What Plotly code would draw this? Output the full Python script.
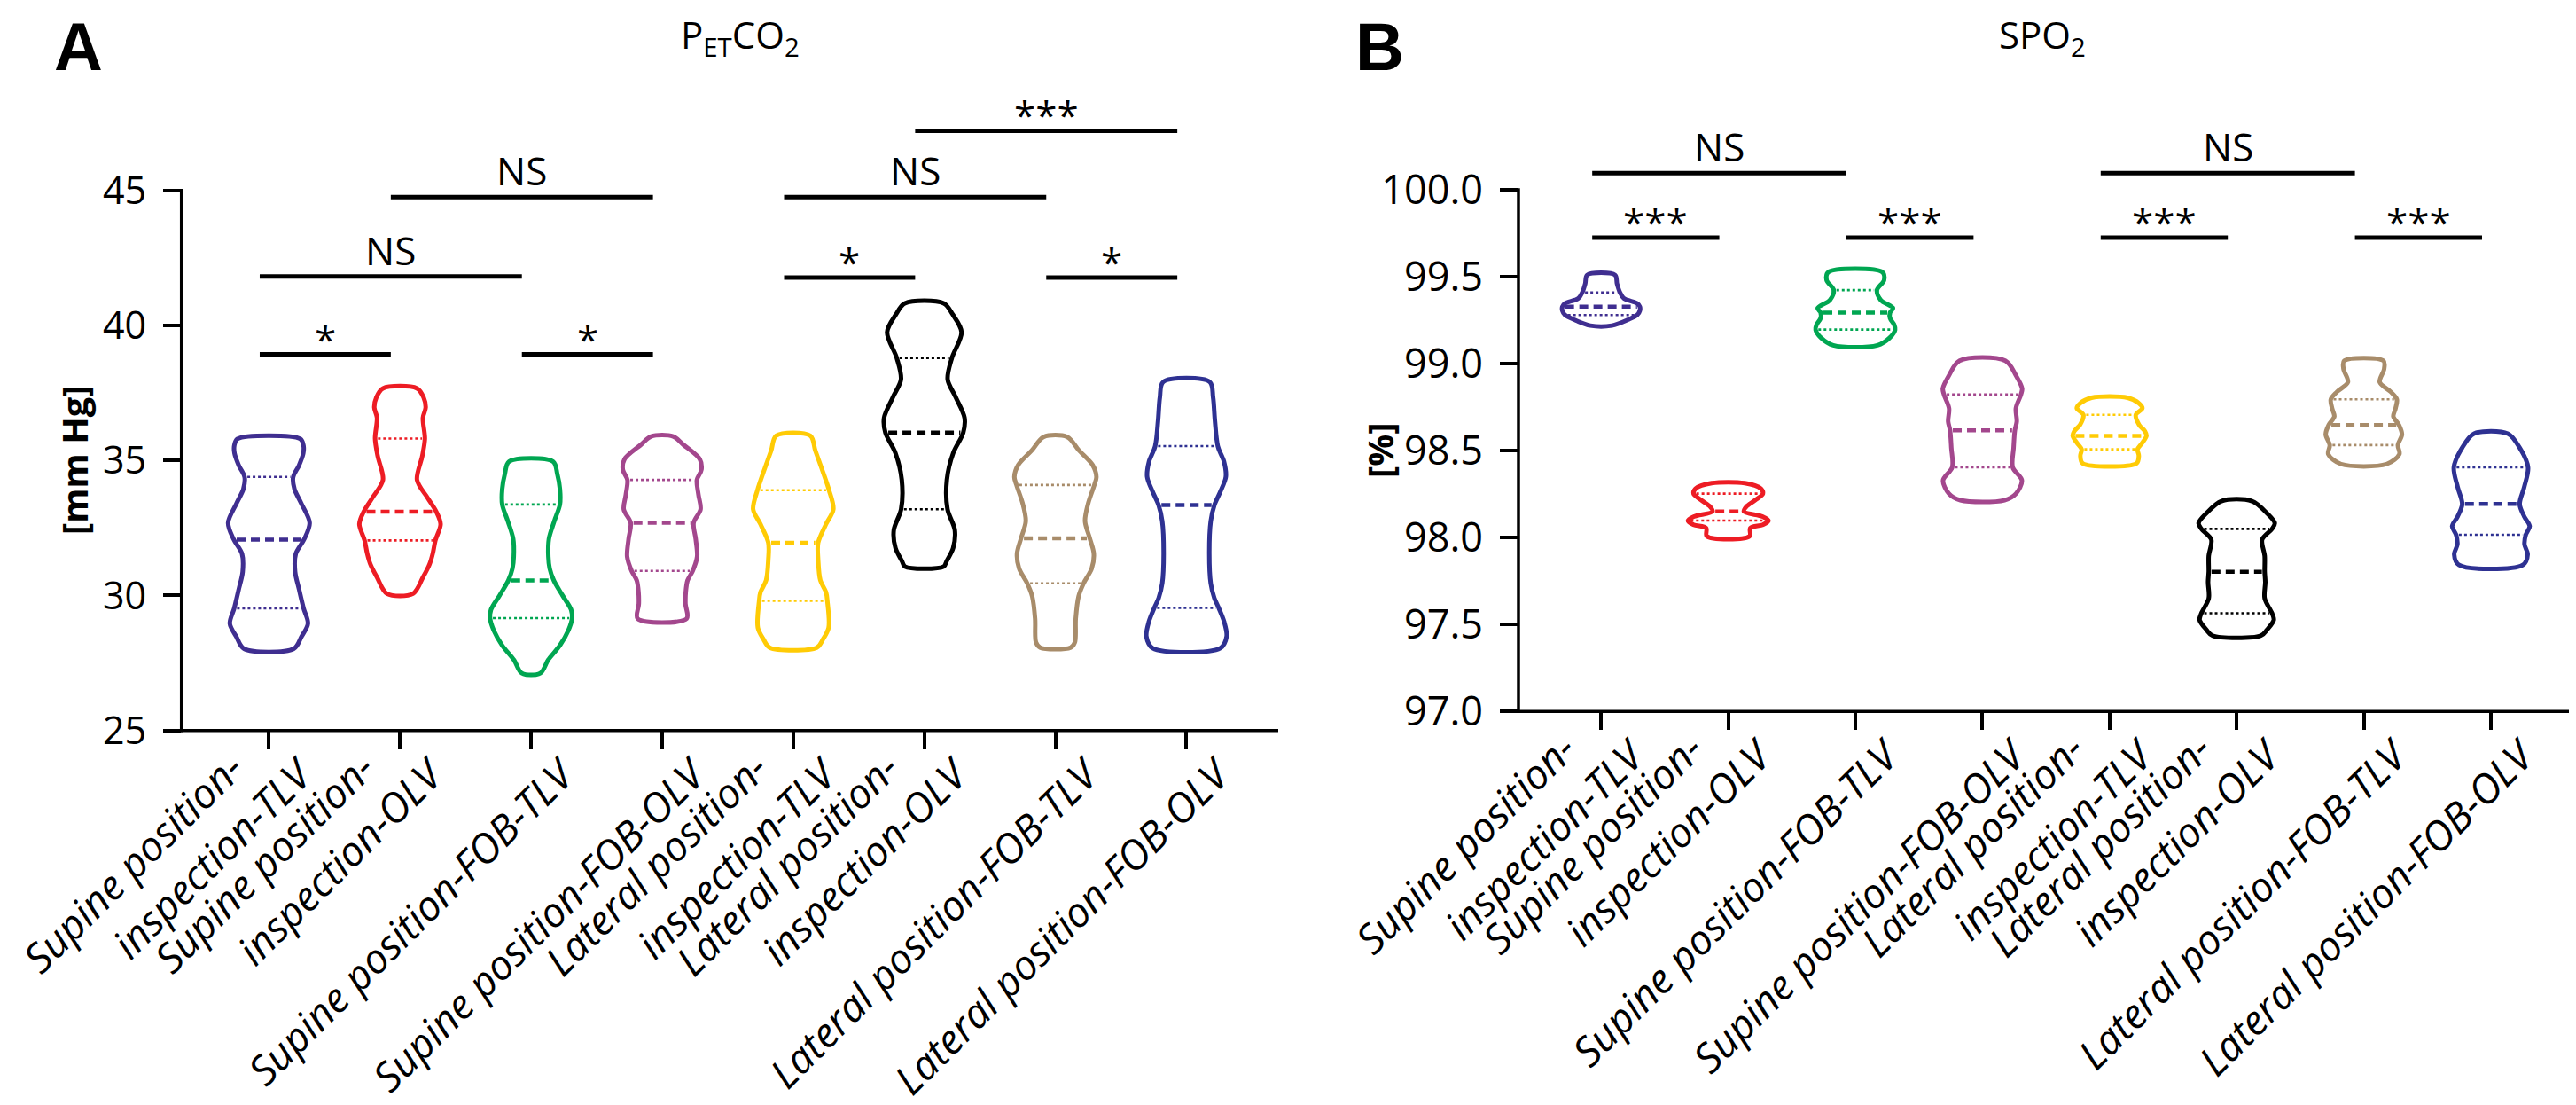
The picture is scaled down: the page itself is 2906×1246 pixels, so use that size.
import numpy as np
import plotly.graph_objects as go

W, H = 2906, 1246

# ---------------- data ----------------
NB = "\u00a0"
CATEGORIES = [
    "Supine position-" + NB * 4 + "<br>inspection-TLV",
    "Supine position-" + NB * 4 + "<br>inspection-OLV",
    NB + "<br>Supine position-FOB-TLV",
    NB + "<br>Supine position-FOB-OLV",
    "Lateral position-" + NB * 4 + "<br>inspection-TLV",
    "Lateral position-" + NB * 4 + "<br>inspection-OLV",
    NB + "<br>Lateral position-FOB-TLV",
    NB + "<br>Lateral position-FOB-OLV",
]

# Panel A (PETCO2) violin outlines: value levels (top->bottom) and density half-width
A1_Y = [35.80, 35.55, 35.26, 34.82, 34.38, 33.94, 33.40, 32.69, 32.09, 31.54, 30.88, 30.23, 29.52, 28.96, 28.47, 28.03]
A1_W = [0.24, 0.264, 0.262, 0.23, 0.185, 0.195, 0.248, 0.311, 0.27, 0.205, 0.20, 0.23, 0.265, 0.298, 0.248, 0.19]
A2_Y = [37.67, 37.34, 36.96, 36.58, 35.81, 35.16, 34.28, 33.62, 33.10, 32.64, 32.04, 31.55, 31.16, 30.67, 30.07]
A2_W = [0.13, 0.18, 0.196, 0.175, 0.19, 0.17, 0.13, 0.21, 0.277, 0.31, 0.27, 0.25, 0.226, 0.175, 0.10]
A3_Y = [34.96, 34.50, 33.95, 33.37, 32.75, 32.09, 31.44, 31.00, 30.56, 30.01, 29.47, 29.16, 28.70, 28.15, 27.61, 27.12]
A3_W = [0.168, 0.20, 0.22, 0.22, 0.177, 0.136, 0.132, 0.142, 0.173, 0.239, 0.306, 0.313, 0.284, 0.22, 0.13, 0.07]
A4_Y = [35.89, 35.59, 35.05, 34.66, 34.28, 33.73, 33.19, 32.69, 32.09, 31.44, 30.91, 30.56, 30.12, 29.69, 29.14]
A4_W = [0.084, 0.16, 0.287, 0.30, 0.265, 0.277, 0.293, 0.24, 0.256, 0.267, 0.233, 0.194, 0.18, 0.178, 0.187]
A5_Y = [35.92, 35.37, 34.72, 33.90, 33.19, 32.64, 31.95, 31.33, 30.56, 30.12, 29.80, 28.81, 28.37, 28.07]
A5_W = [0.13, 0.168, 0.216, 0.273, 0.306, 0.25, 0.19, 0.19, 0.207, 0.25, 0.26, 0.27, 0.226, 0.18]
A6_Y = [40.82, 40.41, 39.75, 38.79, 38.00, 37.34, 36.58, 36.03, 35.27, 34.28, 33.19, 32.42, 31.76, 31.27, 31.07]
A6_W = [0.148, 0.216, 0.284, 0.21, 0.178, 0.24, 0.307, 0.297, 0.22, 0.172, 0.177, 0.233, 0.22, 0.17, 0.148]
A7_Y = [35.87, 35.37, 34.83, 34.39, 34.09, 33.41, 32.75, 32.12, 31.55, 31.00, 30.45, 29.97, 29.14, 28.26, 28.07]
A7_W = [0.09, 0.18, 0.284, 0.313, 0.297, 0.25, 0.226, 0.262, 0.293, 0.277, 0.215, 0.177, 0.155, 0.148, 0.116]
A8_Y = [37.91, 37.34, 36.47, 35.53, 34.94, 34.39, 33.84, 33.35, 32.75, 31.55, 30.45, 29.91, 29.54, 29.03, 28.48, 28.05]
A8_W = [0.177, 0.203, 0.217, 0.239, 0.287, 0.30, 0.258, 0.213, 0.185, 0.174, 0.185, 0.212, 0.246, 0.287, 0.306, 0.258]

A_Q3 = [34.39, 35.81, 33.37, 34.28, 33.90, 38.79, 34.09, 35.53]
A_MED = [32.07, 33.10, 30.56, 32.69, 31.95, 36.03, 32.12, 33.35]
A_Q1 = [29.52, 32.04, 29.16, 30.91, 29.80, 33.19, 30.45, 29.54]

# Panel B (SPO2)
B1_Y = [99.51, 99.46, 99.41, 99.375, 99.347, 99.328, 99.305, 99.28, 99.253, 99.219]
B1_W = [0.11, 0.125, 0.148, 0.18, 0.284, 0.305, 0.305, 0.284, 0.212, 0.085]
B2_Y = [98.313, 98.281, 98.253, 98.215, 98.178, 98.15, 98.121, 98.098, 98.074, 98.055, 98.008]
B2_W = [0.13, 0.258, 0.273, 0.212, 0.142, 0.123, 0.27, 0.317, 0.273, 0.174, 0.168]
B3_Y = [99.527, 99.48, 99.423, 99.366, 99.319, 99.294, 99.262, 99.225, 99.196, 99.149, 99.106]
B3_W = [0.212, 0.226, 0.17, 0.20, 0.297, 0.273, 0.273, 0.305, 0.313, 0.27, 0.174]
B4_Y = [99.017, 98.932, 98.857, 98.823, 98.744, 98.668, 98.617, 98.517, 98.404, 98.329, 98.253, 98.215]
B4_W = [0.18, 0.264, 0.312, 0.303, 0.263, 0.27, 0.255, 0.245, 0.238, 0.31, 0.264, 0.174]
B5_Y = [98.804, 98.772, 98.744, 98.706, 98.649, 98.612, 98.585, 98.546, 98.508, 98.47, 98.427]
B5_W = [0.142, 0.232, 0.258, 0.206, 0.232, 0.278, 0.29, 0.258, 0.22, 0.23, 0.212]
B6_Y = [98.21, 98.14, 98.083, 98.05, 97.989, 97.895, 97.804, 97.744, 97.65, 97.565, 97.527, 97.47, 97.436]
B6_W = [0.12, 0.238, 0.30, 0.278, 0.20, 0.22, 0.22, 0.225, 0.22, 0.278, 0.292, 0.238, 0.19]
B7_Y = [99.017, 98.97, 98.894, 98.838, 98.795, 98.744, 98.696, 98.647, 98.593, 98.532, 98.48, 98.423]
B7_W = [0.155, 0.16, 0.125, 0.212, 0.26, 0.25, 0.232, 0.277, 0.30, 0.268, 0.28, 0.18]
B8_Y = [98.598, 98.517, 98.404, 98.291, 98.193, 98.121, 98.065, 98.016, 97.961, 97.904, 97.842]
B8_W = [0.133, 0.226, 0.292, 0.262, 0.226, 0.262, 0.305, 0.274, 0.264, 0.289, 0.25]

B_Q3 = [99.41, 98.253, 99.423, 98.823, 98.706, 98.05, 98.795, 98.404]
B_MED = [99.328, 98.15, 99.294, 98.617, 98.585, 97.804, 98.647, 98.193]
B_Q1 = [99.28, 98.098, 99.196, 98.404, 98.508, 97.565, 98.532, 98.016]

# significance comparisons
A_SIG_FROM = [0, 2, 0, 4, 6, 1, 4, 5]
A_SIG_TO = [1, 3, 2, 5, 7, 3, 6, 7]
A_SIG_LEVEL = [38.93, 38.93, 41.81, 41.77, 41.77, 44.75, 44.75, 47.21]
A_SIG_TEXT = ["*", "*", "NS", "*", "*", "NS", "NS", "***"]

B_SIG_FROM = [0, 2, 4, 6, 0, 4]
B_SIG_TO = [1, 3, 5, 7, 2, 6]
B_SIG_LEVEL = [99.725, 99.725, 99.725, 99.725, 100.095, 100.095]
B_SIG_TEXT = ["***", "***", "***", "***", "NS", "NS"]

A_TICKS = [25, 30, 35, 40, 45]
B_TICKS = [97.0, 97.5, 98.0, 98.5, 99.0, 99.5, 100.0]

# ---------------- style ----------------
COLORS = ["#3f2e90", "#ed1c24", "#00a651", "#a3478d", "#ffcb05", "#000000", "#a88c6a", "#2e3192"]
FONT = "Open Sans"
BAR_SHIFT = -0.07

# pixel geometry
A_XPX = (196.7, 1434.0)
A_XR = [-0.667, 7.70]
A_YPX = (815.7, 84.9)   # pixel rows for y range bottom/top
A_YR = [25, 49]
B_XPX = (1705.0, 2906.0)
B_XR = [-0.65, 7.725]
B_YPX = (794.3, 107.95)
B_YR = [97.0, 100.5]


def dom_x(px):
    return [px[0] / W, px[1] / W]


def dom_y(px):
    return [(H - px[0]) / H, (H - px[1]) / H]


def paper_y(v, rng, px):
    d = dom_y(px)
    return d[0] + (v - rng[0]) / (rng[1] - rng[0]) * (d[1] - d[0])


fig = go.Figure()


def add_panel(ys, ws, q1, med, q3, xa, ya):
    for i, (yy, ww) in enumerate(zip(ys, ws)):
        yy = np.array(yy, dtype=float)
        ww = np.array(ww, dtype=float)
        xs = np.concatenate([i + ww, (i - ww)[::-1], [i + ww[0]]])
        yv = np.concatenate([yy, yy[::-1], [yy[0]]])
        fig.add_trace(go.Scatter(
            x=xs, y=yv, mode="lines", xaxis=xa, yaxis=ya,
            line=dict(color=COLORS[i], width=5, shape="spline", smoothing=0.9),
            hoverinfo="skip"))
        # quartile/median lines
        yasc = yy[::-1]
        wasc = ww[::-1]
        for val, dash, lw in ((q1[i], "3px,3px", 2.6), (q3[i], "3px,3px", 2.6), (med[i], "10px,6px", 4.5)):
            hw = float(np.interp(val, yasc, wasc)) - 0.022
            fig.add_trace(go.Scatter(
                x=[i - hw, i + hw], y=[val, val], mode="lines", xaxis=xa, yaxis=ya,
                line=dict(color=COLORS[i], width=lw, dash=dash), hoverinfo="skip"))


add_panel([A1_Y, A2_Y, A3_Y, A4_Y, A5_Y, A6_Y, A7_Y, A8_Y],
          [A1_W, A2_W, A3_W, A4_W, A5_W, A6_W, A7_W, A8_W],
          A_Q1, A_MED, A_Q3, "x", "y")
add_panel([B1_Y, B2_Y, B3_Y, B4_Y, B5_Y, B6_Y, B7_Y, B8_Y],
          [B1_W, B2_W, B3_W, B4_W, B5_W, B6_W, B7_W, B8_W],
          B_Q1, B_MED, B_Q3, "x2", "y2")

annotations = []


def add_sig(froms, tos, levels, texts, xa, ya):
    for a, b, lv, t in zip(froms, tos, levels, texts):
        fig.add_trace(go.Scatter(
            x=[a + BAR_SHIFT, b + BAR_SHIFT], y=[lv, lv], mode="lines", xaxis=xa, yaxis=ya,
            line=dict(color="black", width=5), hoverinfo="skip"))
        star = t.startswith("*")
        annotations.append(dict(
            x=(a + b) / 2 + BAR_SHIFT, y=lv, xref=xa, yref=ya, text=t, showarrow=False,
            xanchor="center", yanchor="bottom", yshift=-14 if star else -2,
            font=dict(family=FONT, size=44, color="black")))


add_sig(A_SIG_FROM, A_SIG_TO, A_SIG_LEVEL, A_SIG_TEXT, "x", "y")
add_sig(B_SIG_FROM, B_SIG_TO, B_SIG_LEVEL, B_SIG_TEXT, "x2", "y2")

# titles and labels
annotations += [
    dict(x=80 / W, y=1, xref="paper", yref="paper", text="<b>A</b>", showarrow=False,
         xanchor="center", yanchor="top", font=dict(family="Liberation Sans", size=76, color="black")),
    dict(x=1548 / W, y=1, xref="paper", yref="paper", text="<b>B</b>", showarrow=False,
         xanchor="center", yanchor="top", font=dict(family="Liberation Sans", size=76, color="black")),
    dict(x=827 / W, y=1, xref="paper", yref="paper",
         text="P<sub>ET</sub>CO<sub>2</sub>", showarrow=False,
         xanchor="center", yanchor="top", font=dict(family=FONT, size=42, color="black")),
    dict(x=2296 / W, y=1, xref="paper", yref="paper",
         text="SPO<sub>2</sub>", showarrow=False,
         xanchor="center", yanchor="top", font=dict(family=FONT, size=42, color="black")),
    dict(x=75 / W, y=1 - 511 / H, xref="paper", yref="paper", text="<b>[mm Hg]</b>", showarrow=False,
         textangle=-90, xanchor="center", yanchor="middle", font=dict(family=FONT, size=40, color="black")),
    dict(x=1548 / W, y=1 - 500 / H, xref="paper", yref="paper", text="<b>[%]</b>", showarrow=False,
         textangle=-90, xanchor="center", yanchor="middle", font=dict(family=FONT, size=40, color="black")),
]

# axis lines as shapes
shapes = []
for xpx, rng, ypx, lo, hi, tl in ((A_XPX, A_YR, A_YPX, 25, 45, 20), (B_XPX, B_YR, B_YPX, 97.0, 100.0, 19)):
    x0 = xpx[0] / W
    shapes.append(dict(type="line", xref="paper", yref="paper", x0=x0, x1=x0,
                       y0=paper_y(lo, rng, ypx) - 1.7 / H, y1=paper_y(hi, rng, ypx) + 1.7 / H,
                       line=dict(color="black", width=3.5)))
    shapes.append(dict(type="line", xref="paper", yref="paper", x0=(xpx[0] - tl) / W, x1=xpx[1] / W,
                       y0=paper_y(lo, rng, ypx), y1=paper_y(lo, rng, ypx),
                       line=dict(color="black", width=3.5)))

xcommon = dict(tickvals=list(range(8)), ticktext=CATEGORIES, ticks="outside", ticklen=20, tickwidth=3.5,
               tickcolor="black", showline=False, showgrid=False, zeroline=False, tickangle=-45,
               automargin=False, ticklabelstandoff=-58, ticklabelshift=-8, ticklabeloverflow="allow",
               tickfont=dict(family=FONT, size=46, style="italic", color="black"))
ycommon = dict(ticks="outside", ticklen=20, tickwidth=3.5, tickcolor="black", showline=False,
               showgrid=False, zeroline=False, ticklabelstandoff=10, automargin=False)

fig.update_layout(
    width=W, height=H, margin=dict(l=0, r=0, t=0, b=0, autoexpand=False),
    paper_bgcolor="white", plot_bgcolor="white", showlegend=False,
    xaxis=dict(domain=dom_x(A_XPX), range=A_XR, anchor="y", **xcommon),
    yaxis=dict(domain=dom_y(A_YPX), range=A_YR, anchor="x", tickvals=A_TICKS,
               ticktext=[str(v) for v in A_TICKS],
               tickfont=dict(family=FONT, size=43, color="black"), **ycommon),
    xaxis2=dict(domain=dom_x(B_XPX), range=B_XR, anchor="y2", **xcommon),
    yaxis2=dict(domain=dom_y(B_YPX), range=B_YR, anchor="x2", tickvals=B_TICKS,
                ticktext=[f"{v:.1f}" for v in B_TICKS],
                tickfont=dict(family=FONT, size=45, color="black"), **ycommon),
    annotations=annotations, shapes=shapes,
)

fig.write_html("out.html")
